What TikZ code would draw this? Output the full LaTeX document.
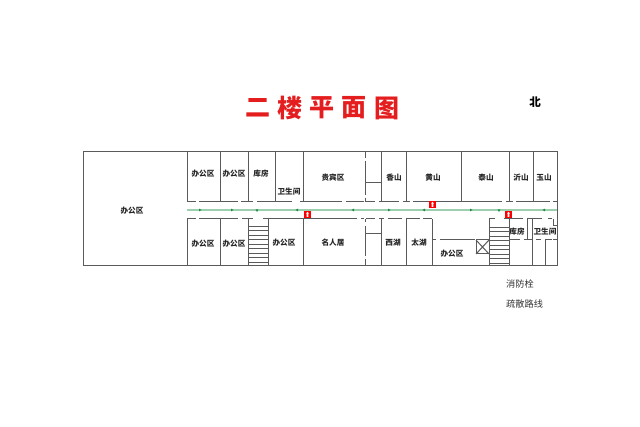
\documentclass[tikz,border=0pt]{standalone}
\usepackage{fontspec}
\setmainfont{Noto Sans CJK SC}
\usetikzlibrary{arrows.meta}
\definecolor{wallgray}{HTML}{5A5A5A}
\definecolor{routegreen}{HTML}{9CCFAE}
\definecolor{tipgreen}{HTML}{1E8A46}
\definecolor{titlered}{HTML}{E41E1E}
\tikzset{
  wall/.style={draw=wallgray, line width=1pt},
  tread/.style={draw=wallgray, line width=0.8pt},
  room/.style={font=\fontsize{7.6}{8}\selectfont\bfseries, text=black!85, inner sep=0pt},
  legendtext/.style={font=\fontsize{9.2}{10}\selectfont, text=black!80, inner sep=0pt, anchor=west},
  headchar/.style={font=\fontsize{25}{26}\selectfont\bfseries, text=titlered, inner sep=0pt},
  hydrant/.style={fill=red, minimum size=7pt, inner sep=0pt},
}
\begin{document}
\begin{tikzpicture}[x=1pt,y=-1pt]
\useasboundingbox (0,0) rectangle (640,427);
% title
\foreach \cx/\ch in {258/二,290/楼,322/平,354/面,387/图}
  \node[headchar] (head\cx) at (\cx,108) {\ch};
\node[font=\fontsize{11.5}{12}\selectfont\bfseries, inner sep=0pt] (north) at (535,102) {北};
% outer wall
\draw[wall] (83,152) rectangle (557,266);
% corridor walls, top side
\foreach \xa/\xb in {187/196,199/238,241/253,257/292,300/342,346/364,366/375,379/399,403/410,413/502,506/513,516/550,553/557}
  \draw[wall] (\xa,202) -- (\xb,202);
% corridor walls, bottom side
\foreach \xa/\xb in {187/196,199/238,242/253,263/357,361/364,366/375,379/384,388/402,406/420,423/432,489/495,504/523,527/542,548/552}
  \draw[wall] (\xa,219) -- (\xb,219);
% room partitions
\foreach \px in {187,220,248,275,303,381,406,461,509,533}
  \draw[wall] (\px,152) -- (\px,202);
\foreach \px in {187,220,248,268,303,381,406,432,489,509,532}
  \draw[wall] (\px,219) -- (\px,266);
\draw[wall] (527,219) -- (527,240);
\draw[wall] (545,240) -- (545,266);
\draw[wall] (553,219) -- (553,226) -- (557,226);
% broken wall at the middle rooms
\draw[wall] (365,152) -- (365,158) (365,161) -- (365,195) (365,198) -- (365,202);
\draw[wall] (365,219) -- (365,222) (365,226) -- (365,256) (365,259) -- (365,266);
\draw[wall] (365,183) -- (381,183);
\draw[wall] (365,234) -- (381,234);
% rooms behind the stairs
\foreach \xa/\xb in {432/436,440/475,509/520,524/532,536/541,545/552,553/557}
  \draw[wall] (\xa,240) -- (\xb,240);
% stairs
\foreach \ty in {226,230.5,...,266}
  \draw[tread] (248,\ty) -- (268,\ty);
\foreach \ty in {227,231.5,...,266}
  \draw[tread] (489,\ty) -- (509,\ty);
% lift
\draw[wall] (476,240) rectangle (489,254);
\draw[wall] (476,240) -- (489,254) (476,254) -- (489,240);
% escape route
\draw[routegreen, line width=1.8pt] (187,210) -- (557,210);
\foreach \ax in {200,232,389,471}
  \fill[tipgreen] (\ax-1,208.6) -- (\ax+1.5,210) -- (\ax-1,211.4) -- cycle;
\foreach \ax in {297,353,424,544}
  \fill[tipgreen] (\ax+1,208.6) -- (\ax-1.5,210) -- (\ax+1,211.4) -- cycle;
\foreach \ax in {257,499}
  \fill[tipgreen] (\ax-1.4,209.5) -- (\ax+1.4,209.5) -- (\ax,212) -- cycle;
% hydrants
\foreach \hx/\hy in {307.5/214.5,432.5/204.5,508.5/214.5} {
  \node[hydrant] (hyd\hx) at (\hx,\hy) {};
  \fill[white] (\hx-1.5,\hy-1) -- (\hx,\hy-2.6) -- (\hx+1.5,\hy-1) -- (\hx+0.8,\hy-1) -- (\hx+0.8,\hy+2.4) -- (\hx-0.8,\hy+2.4) -- (\hx-0.8,\hy-1) -- cycle;
}
% room names
\node[room] (big) at (132,211) {办公区};
\node[room] (ta) at (203,174) {办公区};
\node[room] (tb) at (234,174) {办公区};
\node[room] (tc) at (261,174) {库房};
\node[room] (td) at (289,192) {卫生间};
\node[room] (te) at (333,178) {贵宾区};
\node[room] (tf) at (394,178) {香山};
\node[room] (tg) at (433,178) {黄山};
\node[room] (th) at (486,178) {泰山};
\node[room] (ti) at (521,178) {沂山};
\node[room] (tj) at (544,178) {玉山};
\node[room] (ba) at (203,243.5) {办公区};
\node[room] (bb) at (234,243.5) {办公区};
\node[room] (bc) at (284,243) {办公区};
\node[room] (bd) at (333,243) {名人居};
\node[room] (be) at (393,243) {西湖};
\node[room] (bf) at (419,243) {太湖};
\node[room] (bg) at (452,254) {办公区};
\node[room] (bh) at (517,232) {库房};
\node[room] (bi) at (545,232) {卫生间};
% legend
\node[legendtext] (lega) at (506,284) {消防栓};
\node[legendtext] (legb) at (506,304) {疏散路线};
\end{tikzpicture}
\end{document}
